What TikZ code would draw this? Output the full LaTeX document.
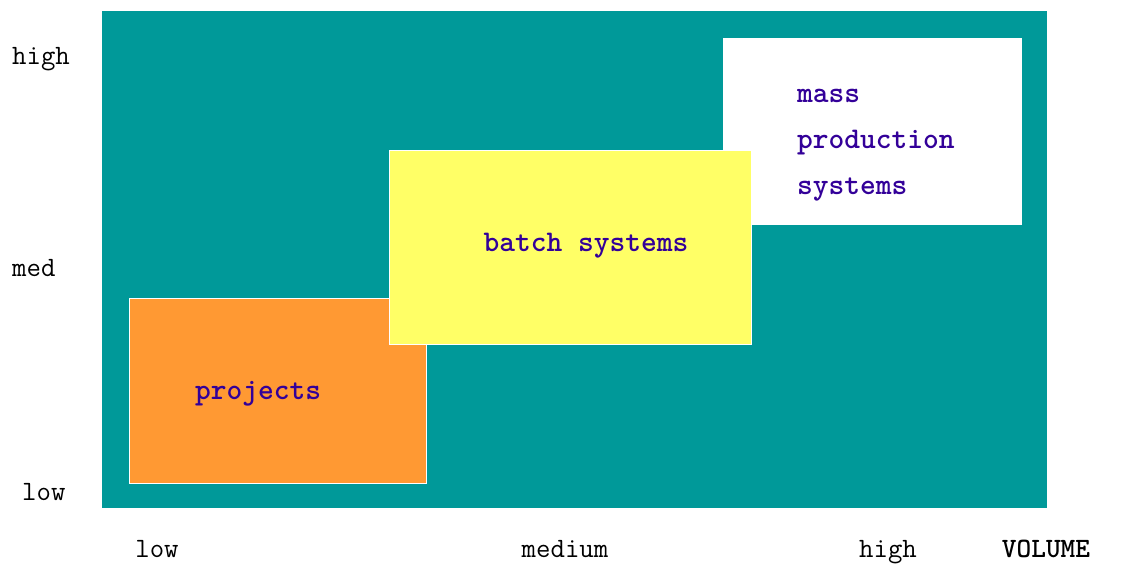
\documentclass[tikz,border=0pt]{standalone}
\usepackage{fontspec}
\definecolor{bgteal}{HTML}{009999}
\definecolor{boxorange}{HTML}{FF9933}
\definecolor{boxyellow}{HTML}{FFFF66}
\definecolor{txtpurple}{HTML}{330099}
\begin{document}
\begin{tikzpicture}[x=1pt,y=-1pt,
  box/.style={draw=white, line width=1pt, anchor=north west, inner sep=0pt, outer sep=0pt},
  axislabel/.style={font=\fontsize{28}{28}\selectfont\ttfamily, text=black, inner sep=0pt},
  boxtext/.style={font=\fontsize{30}{46}\selectfont\ttfamily\bfseries, text=txtpurple, inner sep=0pt, align=left}]
\useasboundingbox (0,0) rectangle (1127,563);
\fill[white] (0,0) rectangle (1127,563);
\node[box, draw=none, fill=bgteal, minimum width=945pt, minimum height=497pt] (bg) at (102,11) {};
\node[box, fill=white, minimum width=298pt, minimum height=186pt] (mass) at (723,38) {};
\node[box, fill=boxorange, minimum width=297pt, minimum height=185pt] (proj) at (129,298) {};
\node[box, fill=boxyellow, minimum width=362pt, minimum height=194pt] (batch) at (389,150) {};
\node[boxtext, anchor=west] (masstext) at (797,145) {mass\\production\\systems};
\node[boxtext] (batchtext) at (586,246) {batch systems};
\node[boxtext] (projtext) at (258,394) {projects};
\node[axislabel, anchor=west] (yhigh) at (12,59) {high};
\node[axislabel, anchor=west] (ymed) at (12,268) {med};
\node[axislabel, anchor=west] (ylow) at (22,492) {low};
\node[axislabel, anchor=base] (xlow) at (157,557) {low};
\node[axislabel, anchor=base] (xmed) at (565,557) {medium};
\node[axislabel, anchor=base] (xhigh) at (888,557) {high};
\node[axislabel, anchor=base, font=\fontsize{28}{28}\selectfont\ttfamily\bfseries] (xvol) at (1046,557) {VOLUME};
\end{tikzpicture}
\end{document}
